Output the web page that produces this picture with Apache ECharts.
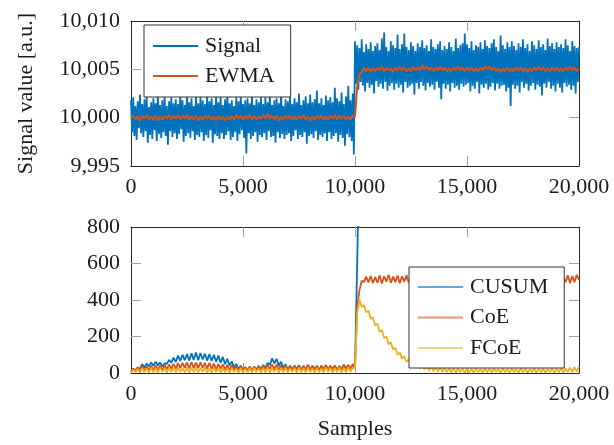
<!DOCTYPE html>
<html>
<head>
<meta charset="utf-8">
<script src="https://cdn.jsdelivr.net/npm/echarts@6/dist/echarts.min.js"></script>
<style>
  html, body { margin: 0; padding: 0; background: #fff; }
  #chart { width: 614px; height: 445px; }
</style>
</head>
<body>
<div id="chart"></div>
<script>
// Raw signal, one reading every 50 samples (0 .. 20000)
const signalStep = 50;
const signal = [
  10001.8, 9998.5, 10002.1, 9998.1, 10001.2, 9997.7, 10001.7, 9998.9, 10002.4, 9998.4, 10001.4, 9998.0, 10001.9, 9998.6, 10002.2, 9997.4, 10001.1, 9998.2, 10001.6, 9997.8,
  10002.0, 9998.7, 10001.5, 9997.6, 10002.6, 9998.3, 10001.3, 9997.9, 10001.8, 9998.5, 10002.3, 9998.1, 10001.2, 9997.2, 10001.7, 9998.6, 10002.1, 9998.0, 10001.5, 9998.4,
  10001.9, 9997.8, 10001.4, 9998.3, 10002.5, 9998.8, 10001.8, 9997.5, 10001.3, 9998.1, 10002.7, 9998.4, 10001.6, 9997.9, 10002.0, 9998.6, 10001.2, 9997.7, 10002.2, 9998.2,
  10001.5, 9998.0, 10002.1, 9998.5, 10001.8, 9997.6, 10001.4, 9998.2, 10002.3, 9997.9, 10001.7, 9998.7, 10002.0, 9997.4, 10001.3, 9998.3, 10002.4, 9998.1, 10001.6, 9997.8,
  10002.2, 9998.4, 10001.3, 9997.8, 10001.9, 9998.2, 10002.6, 9998.6, 10001.5, 9997.7, 10001.8, 9998.0, 10001.2, 9998.5, 10002.1, 9997.6, 10001.7, 9998.3, 10002.3, 9998.7,
  10001.4, 9997.9, 10001.8, 9996.3, 10002.0, 9998.4, 10001.5, 9997.8, 10002.4, 9998.1, 10001.3, 9998.5, 10001.9, 9997.5, 10001.6, 9998.2, 10002.2, 9998.0, 10001.4, 9998.4,
  10002.1, 9997.7, 10001.6, 9998.6, 10002.5, 9998.0, 10001.3, 9998.1, 10001.8, 9997.4, 10002.0, 9998.5, 10001.5, 9997.9, 10002.7, 9998.3, 10001.2, 9997.8, 10001.9, 9998.2,
  10001.7, 9998.4, 10002.3, 9997.6, 10001.4, 9998.1, 10002.0, 9998.7, 10001.6, 9997.8, 10002.5, 9998.2, 10001.3, 9998.0, 10001.8, 9998.5, 10002.2, 9997.3, 10001.5, 9998.1,
  10002.4, 9998.3, 10001.6, 9997.9, 10001.9, 9998.6, 10002.8, 9997.7, 10001.5, 9998.2, 10002.0, 9998.0, 10001.3, 9998.4, 10002.3, 9997.6, 10001.8, 9998.5, 10002.1, 9997.8,
  10001.6, 9998.1, 10003.1, 9998.4, 10002.0, 9997.5, 10001.7, 9998.2, 10002.6, 9997.9, 10001.4, 9997.1, 10002.2, 9998.3, 10003.3, 9998.0, 10001.8, 9997.6, 10002.5, 9996.2,
  10007.9, 10003.5, 10007.5, 10002.9, 10007.2, 10003.7, 10008.1, 10003.3, 10006.8, 10002.7, 10007.6, 10003.6, 10007.1, 10003.1, 10007.8, 10003.4, 10006.9, 10002.5, 10007.4, 10003.8,
  10007.7, 10003.2, 10007.0, 10003.5, 10008.2, 10003.0, 10008.8, 10003.7, 10007.3, 10002.8, 10006.9, 10003.3, 10007.9, 10003.6, 10007.5, 10002.9, 10007.2, 10003.5, 10008.6, 10003.1,
  10007.1, 10003.4, 10007.6, 10002.6, 10008.7, 10003.7, 10007.3, 10003.1, 10007.0, 10003.3, 10007.8, 10003.5, 10007.4, 10002.4, 10006.9, 10003.6, 10007.7, 10003.0, 10007.3, 10003.7,
  10008.0, 10003.3, 10007.2, 10002.8, 10007.5, 10003.6, 10006.9, 10003.2, 10008.1, 10003.4, 10007.3, 10002.9, 10007.1, 10003.7, 10007.6, 10003.1, 10007.9, 10001.9, 10007.0, 10003.5,
  10007.4, 10003.0, 10007.1, 10003.4, 10007.8, 10002.7, 10007.3, 10003.6, 10006.9, 10003.1, 10008.2, 10003.3, 10007.2, 10002.9, 10007.5, 10003.5, 10007.7, 10003.2, 10008.7, 10003.4,
  10007.6, 10003.6, 10007.2, 10002.7, 10007.9, 10003.3, 10007.0, 10003.0, 10007.5, 10003.7, 10007.3, 10002.5, 10007.8, 10003.4, 10007.1, 10003.1, 10008.0, 10003.5, 10007.4, 10002.9,
  10007.2, 10003.2, 10007.7, 10003.6, 10008.1, 10002.8, 10007.3, 10003.5, 10006.9, 10003.0, 10008.5, 10003.3, 10007.5, 10003.4, 10007.1, 10002.7, 10007.8, 10003.1, 10007.3, 10001.2,
  10007.9, 10003.4, 10007.4, 10003.0, 10007.0, 10003.3, 10007.7, 10002.6, 10007.3, 10003.7, 10008.1, 10003.1, 10007.2, 10003.5, 10007.6, 10002.8, 10006.9, 10003.3, 10007.9, 10003.6,
  10007.5, 10002.9, 10007.1, 10003.4, 10008.0, 10003.2, 10007.3, 10002.3, 10007.6, 10003.5, 10007.0, 10003.1, 10008.2, 10003.7, 10007.4, 10003.0, 10007.7, 10003.3, 10007.1, 10002.7,
  10007.8, 10003.5, 10007.3, 10003.1, 10007.6, 10002.6, 10007.2, 10003.6, 10008.1, 10003.2, 10007.5, 10003.4, 10006.9, 10002.9, 10007.9, 10003.3, 10007.4, 10002.5, 10007.2, 10003.7,
  10007.3
];

// Exponentially weighted moving average, every 100 samples
const ewmaStep = 100;
const ewma = [
  10000.0, 10000.2, 9999.8, 10000.1, 9999.7, 10000.2, 9999.9, 10000.3, 9999.8, 10000.1,
  9999.8, 10000.2, 9999.7, 10000.1, 9999.8, 10000.2, 9999.9, 10000.3, 9999.8, 10000.2,
  9999.9, 10000.3, 9999.8, 10000.2, 9999.9, 10000.3, 9999.8, 10000.1, 9999.8, 10000.2,
  9999.7, 10000.1, 9999.8, 10000.2, 9999.9, 10000.2, 9999.8, 10000.1, 9999.7, 10000.2,
  9999.8, 10000.1, 9999.7, 10000.1, 9999.8, 10000.2, 9999.8, 10000.3, 9999.9, 10000.2,
  9999.8, 10000.2, 9999.9, 10000.3, 9999.8, 10000.2, 9999.8, 10000.1, 9999.9, 10000.3,
  9999.9, 10000.4, 9999.9, 10000.2, 9999.8, 10000.2, 9999.7, 10000.1, 9999.8, 10000.2,
  9999.9, 10000.2, 9999.8, 10000.1, 9999.8, 10000.2, 9999.9, 10000.3, 9999.8, 10000.1,
  9999.7, 10000.1, 9999.8, 10000.2, 9999.9, 10000.2, 9999.8, 10000.1, 9999.8, 10000.2,
  9999.9, 10000.3, 9999.8, 10000.2, 9999.9, 10000.2, 9999.8, 10000.1, 9999.8, 10000.2,
  10000.1, 10003.3, 10004.5, 10004.7, 10005.1, 10004.8, 10005.2, 10004.7, 10005.1, 10004.8,
  10005.2, 10004.9, 10005.3, 10004.8, 10005.2, 10004.9, 10005.1, 10004.7, 10005.2, 10004.9,
  10005.3, 10004.9, 10005.2, 10004.8, 10005.1, 10004.8, 10005.3, 10004.9, 10005.2, 10004.9,
  10005.4, 10005.0, 10005.3, 10004.9, 10005.2, 10004.8, 10005.2, 10004.9, 10005.3, 10004.9,
  10005.2, 10004.8, 10005.1, 10004.8, 10005.2, 10004.9, 10005.3, 10004.9, 10005.2, 10004.8,
  10005.2, 10004.9, 10005.2, 10004.8, 10005.1, 10004.8, 10005.2, 10004.9, 10005.3, 10005.0,
  10005.3, 10004.9, 10005.2, 10004.8, 10005.1, 10004.7, 10005.1, 10004.8, 10005.2, 10004.8,
  10005.1, 10004.8, 10005.2, 10004.9, 10005.2, 10004.8, 10005.1, 10004.7, 10005.1, 10004.8,
  10005.2, 10004.9, 10005.3, 10004.9, 10005.2, 10004.8, 10005.1, 10004.8, 10005.2, 10004.9,
  10005.2, 10004.8, 10005.1, 10004.8, 10005.2, 10004.9, 10005.3, 10004.9, 10005.2, 10004.8,
  10005.1
];

// Change-detection statistics, every 100 samples
const detectorStep = 100;
const cusum = [
  5, 22, 12, 30, 22, 48, 30, 52, 36, 58,
  40, 62, 42, 58, 36, 52, 50, 72, 56, 84,
  60, 95, 66, 100, 70, 104, 68, 108, 72, 112,
  70, 110, 74, 106, 68, 104, 66, 100, 62, 96,
  56, 88, 48, 78, 40, 64, 30, 50, 22, 40,
  15, 32, 12, 30, 14, 35, 18, 38, 20, 44,
  30, 55, 45, 80, 52, 78, 40, 62, 28, 48,
  20, 40, 18, 38, 22, 42, 16, 36, 20, 44,
  18, 38, 22, 40, 15, 36, 20, 42, 18, 38,
  22, 40, 16, 38, 20, 44, 24, 42, 22, 45,
  30, 620, 1230, 1840
];
const coe = [
  5, 25, 10, 32, 14, 38, 12, 36, 16, 40,
  14, 42, 18, 40, 15, 44, 20, 48, 22, 50,
  24, 54, 26, 56, 28, 58, 25, 60, 27, 57,
  26, 58, 28, 55, 24, 56, 22, 52, 20, 50,
  22, 48, 18, 44, 16, 42, 14, 38, 12, 36,
  10, 32, 14, 36, 12, 34, 15, 38, 18, 40,
  20, 44, 22, 48, 20, 46, 18, 42, 16, 40,
  14, 38, 16, 42, 12, 36, 15, 40, 18, 44,
  14, 40, 16, 38, 12, 42, 18, 44, 15, 40,
  16, 42, 14, 38, 18, 46, 20, 44, 22, 48,
  35, 360, 455, 505, 498, 528, 496, 532, 492, 525,
  495, 535, 490, 530, 500, 538, 494, 528, 498, 534,
  492, 530, 500, 536, 495, 527, 490, 532, 498, 538,
  494, 530, 490, 526, 497, 534, 492, 531, 500, 537,
  493, 528, 496, 533, 490, 529, 499, 536, 494, 530,
  491, 527, 497, 535, 493, 531, 489, 526, 496, 534,
  492, 530, 498, 537, 494, 528, 490, 532, 497, 535,
  493, 529, 495, 533, 491, 527, 498, 536, 494, 530,
  490, 526, 496, 534, 492, 530, 499, 537, 493, 528,
  495, 533, 491, 529, 497, 535, 493, 531, 498, 538,
  510
];
const fcoe = [
  2, 18, 4, 22, 3, 26, 5, 24, 2, 28,
  4, 25, 3, 28, 6, 24, 2, 30, 5, 27,
  3, 29, 6, 26, 4, 31, 2, 28, 5, 30,
  3, 27, 6, 32, 4, 26, 2, 29, 5, 25,
  3, 28, 4, 24, 2, 27, 5, 23, 3, 26,
  2, 22, 4, 25, 3, 28, 5, 24, 2, 27,
  4, 30, 3, 26, 6, 29, 2, 25, 4, 28,
  3, 24, 5, 27, 2, 30, 4, 26, 3, 29,
  5, 25, 2, 28, 4, 24, 3, 31, 6, 27,
  3, 26, 5, 29, 2, 27, 4, 32, 6, 30,
  25, 330, 400, 362, 372, 332, 342, 296, 305, 262,
  270, 226, 236, 192, 200, 157, 168, 128, 138, 100,
  112, 78, 92, 60, 76, 45, 62, 34, 53, 26,
  45, 20, 40, 14, 36, 10, 32, 8, 30, 6,
  28, 5, 26, 4, 27, 3, 25, 5, 24, 2,
  26, 4, 23, 3, 27, 5, 22, 2, 25, 4,
  24, 3, 26, 5, 22, 2, 27, 4, 23, 3,
  25, 5, 21, 2, 26, 4, 24, 3, 22, 5,
  27, 2, 23, 4, 25, 3, 22, 5, 26, 2,
  24, 4, 27, 3, 25, 6, 29, 5, 32, 8,
  35
];

// Interior tick positions (the frame edges carry the end ticks)
const sampleTicks = [5000, 10000, 15000];
const signalTicks = [10000, 10005];
const statTicks = [200, 400, 600];

const FONT = 'Liberation Serif';
const FS = 22;
const TEXT = '#1a1a1a';
const FRAME = '#262626';
const TICK = '#a0a0a0';
const BLUE = '#0072BD', ORANGE = '#D95319', YELLOW = '#EDB120';

const withCommas = v => String(v).replace(/\B(?=(\d{3})+(?!\d))/g, ',');
const pairs = (values, step) => values.map((v, i) => [i * step, v]);

function xAxis(grid, top, name) {
  return {
    type: 'value', gridIndex: grid, position: top ? 'top' : 'bottom',
    min: 0, max: 20000, interval: 5000,
    axisLine: { show: true, onZero: false, lineStyle: { color: FRAME, width: 1 } },
    axisTick: { show: true, inside: true, length: 10, customValues: sampleTicks, lineStyle: { color: TICK, width: 1 } },
    axisLabel: { show: !top, margin: 10, color: TEXT, fontFamily: FONT, fontSize: FS, formatter: withCommas },
    splitLine: { show: false },
    name: name || '', nameLocation: 'middle', nameGap: 45,
    nameTextStyle: { color: TEXT, fontFamily: FONT, fontSize: FS }
  };
}
function yAxis(grid, right, min, max, interval, ticks, name) {
  return {
    type: 'value', gridIndex: grid, position: right ? 'right' : 'left',
    min, max, interval,
    axisLine: { show: true, onZero: false, lineStyle: { color: FRAME, width: 1 } },
    axisTick: { show: true, inside: true, length: 10, customValues: ticks, lineStyle: { color: TICK, width: 1 } },
    axisLabel: { show: !right, margin: 11, color: TEXT, fontFamily: FONT, fontSize: FS, formatter: withCommas },
    splitLine: { show: false },
    name: name || '', nameLocation: 'middle', nameGap: 94, nameRotate: 90,
    nameTextStyle: { color: TEXT, fontFamily: FONT, fontSize: FS }
  };
}
function lineSeries(name, data, x, y, color, width) {
  return {
    name, type: 'line', data, xAxisIndex: x, yAxisIndex: y,
    showSymbol: false, symbol: 'none', sampling: null, silent: true,
    lineStyle: { color, width }, itemStyle: { color }
  };
}
const legendBase = {
  orient: 'vertical', icon: 'rect', itemWidth: 45, itemHeight: 2,
  backgroundColor: '#fff', borderColor: '#333', borderWidth: 1, borderRadius: 0,
  textStyle: { color: TEXT, fontFamily: FONT, fontSize: FS, padding: [0, 0, 0, 2] },
  selectedMode: false
};

const chart = echarts.init(document.getElementById('chart'), null, { renderer: 'canvas' });
chart.setOption({
  animation: false,
  backgroundColor: '#fff',
  grid: [
    { left: 131, right: 35, top: 21, height: 145 },
    { left: 131, right: 35, top: 227, height: 146 }
  ],
  xAxis: [xAxis(0, false), xAxis(0, true), xAxis(1, false, 'Samples'), xAxis(1, true)],
  yAxis: [
    yAxis(0, false, 9995, 10010, 5, signalTicks, 'Signal value [a.u.]'),
    yAxis(0, true, 9995, 10010, 5, signalTicks),
    yAxis(1, false, 0, 800, 200, statTicks),
    yAxis(1, true, 0, 800, 200, statTicks)
  ],
  legend: [
    Object.assign({}, legendBase, {
      left: 144, top: 25, padding: [10, 16, 10, 9], itemGap: 8,
      data: [{ name: 'Signal', itemStyle: { color: BLUE } }, { name: 'EWMA', itemStyle: { color: ORANGE } }]
    }),
    Object.assign({}, legendBase, {
      left: 409, top: 267, padding: [9, 16, 9, 9], itemGap: 8.5,
      data: [
        { name: 'CUSUM', itemStyle: { color: '#66AAD7' } },
        { name: 'CoE', itemStyle: { color: '#E89875' } },
        { name: 'FCoE', itemStyle: { color: '#F4D079' } }
      ]
    })
  ],
  series: [
    lineSeries('Signal', pairs(signal, signalStep), 0, 0, BLUE, 1.8),
    lineSeries('EWMA', pairs(ewma, ewmaStep), 0, 0, ORANGE, 2),
    lineSeries('CUSUM', pairs(cusum, detectorStep), 2, 2, BLUE, 1.8),
    lineSeries('CoE', pairs(coe, detectorStep), 2, 2, ORANGE, 1.8),
    lineSeries('FCoE', pairs(fcoe, detectorStep), 2, 2, YELLOW, 1.8)
  ]
});
</script>
</body>
</html>
